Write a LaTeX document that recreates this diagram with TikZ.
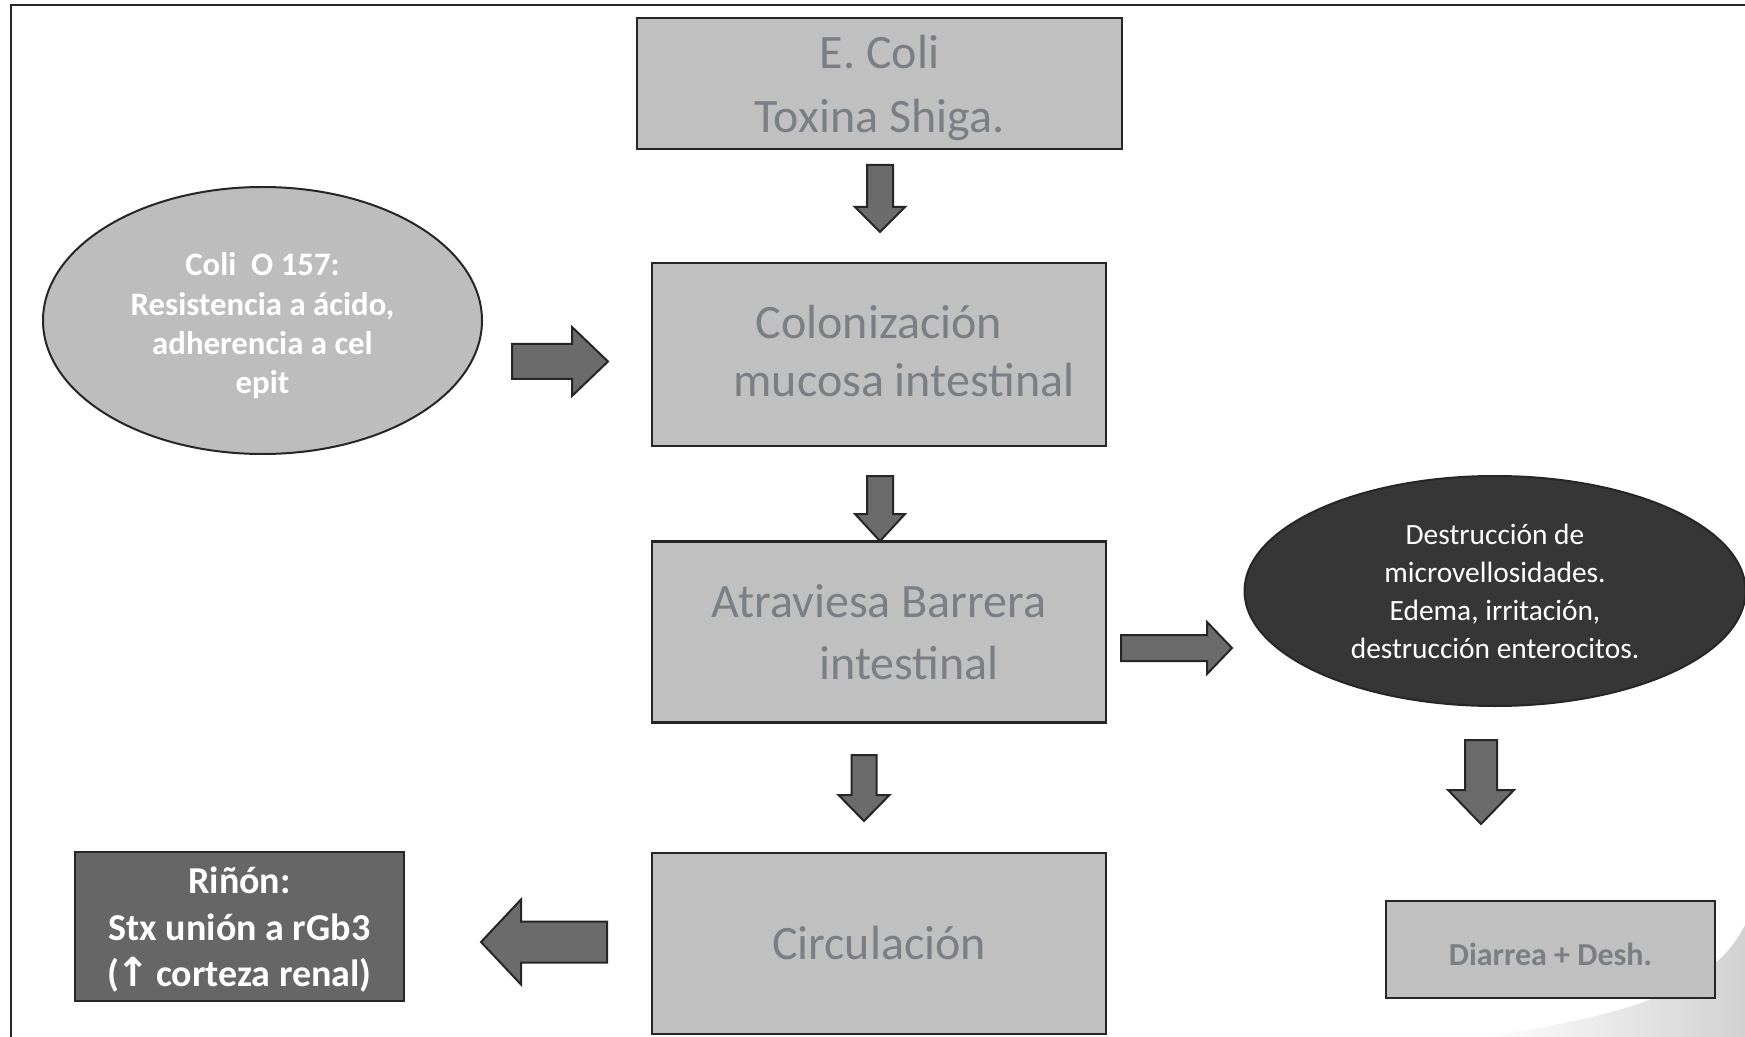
\documentclass[tikz,border=0pt]{standalone}
\usepackage{fontspec}
\setmainfont{Carlito}
\newfontfamily\dejavu{DejaVu Sans}
\usetikzlibrary{shapes.geometric}
\definecolor{boxfill}{HTML}{C0C0C0}
\definecolor{boxtext}{HTML}{7A7F86}
\definecolor{ellfill}{HTML}{BDBDBD}
\definecolor{darkell}{HTML}{363636}
\definecolor{rinonfill}{HTML}{666666}
\definecolor{arrowfill}{HTML}{6B6B6B}
\definecolor{edgec}{HTML}{262626}
% #1 start, #2 angle, #3 length, #4 shaft half width, #5 head half width, #6 head length
\newcommand{\blockarr}[6]{%
  \draw[barrow, shift={#1}, rotate=#2] (0,-#4) -- ({#3-#6},-#4) -- ({#3-#6},-#5) -- (#3,0)
    -- ({#3-#6},#5) -- ({#3-#6},#4) -- (0,#4) -- cycle;}
\newcommand{\upstrut}[1]{\rule{0pt}{#1}}
\newcommand{\downstrut}[1]{\rule[-#1]{0pt}{0pt}}
\tikzset{
  gbox/.style={draw=edgec, line width=1.25pt, fill=boxfill, rectangle, inner sep=0pt,
    align=center, text=boxtext},
  bigtext/.style={font=\fontsize{24}{#1}\selectfont},
  barrow/.style={draw=edgec, line width=1pt, fill=arrowfill, line join=miter},
  ell/.style={ellipse, draw=edgec, line width=1pt, inner sep=0pt, align=center},
}
\begin{document}
\begin{tikzpicture}[x=0.5pt, y=-0.5pt]
\useasboundingbox (0,0) rectangle (1745,1037);
\fill[white] (0,0) rectangle (1745,1037);
% page-curl shadow at bottom right
\shade[left color=white, right color=black!18]
  (1480,1037) .. controls (1640,1015) and (1715,985) .. (1745,925) -- (1745,1037) -- cycle;
% frame
\draw[line width=1.25pt, edgec] (11,1037) -- (11,5) -- (1745,5);

% boxes
\node[gbox, bigtext=32pt, minimum width=242.5pt, minimum height=65.5pt] (ecoli) at (879.5,83.5)
  {\upstrut{21.3pt}E. Coli\\Toxina Shiga.};
\node[gbox, bigtext=29pt, minimum width=227pt, minimum height=91.5pt] (colon) at (879,354.5)
  {Colonización\\\hspace*{25pt}mucosa intestinal\downstrut{3.3pt}};
\node[gbox, bigtext=31pt, minimum width=227pt, minimum height=90.5pt] (atr) at (879,632)
  {Atraviesa Barrera\\\hspace*{30pt}intestinal};
\node[gbox, bigtext=29pt, minimum width=227pt, minimum height=90.5pt] (circ) at (879,943.5)
  {Circulación};
\node[gbox, fill=rinonfill, text=white, font=\bfseries\fontsize{19}{23.25}\selectfont,
  minimum width=164.5pt, minimum height=74.5pt] (rinon) at (239.5,926.5)
  {\upstrut{16.6pt}Riñón:\\Stx unión a rGb3\\(\kern-1.5pt{\dejavu\fontsize{20}{20}\selectfont ↑}\kern-1pt{} corteza renal)};
\node[gbox, font=\bfseries\fontsize{16}{19}\selectfont,
  minimum width=164.5pt, minimum height=48.5pt] (diarrea) at (1550.5,949.5)
  {\upstrut{15.7pt}Diarrea + Desh.};

% ellipses
\node[ell, fill=ellfill, text=white, font=\bfseries\fontsize{16.4}{19.6}\selectfont,
  minimum width=219.5pt, minimum height=133.5pt] (coli) at (262.5,320.5)
  {\upstrut{16.8pt}Coli\ \ O 157:\\Resistencia a ácido,\\adherencia a cel\\epit};
\node[ell, fill=darkell, text=white, font=\fontsize{14.7}{19}\selectfont,
  minimum width=250.5pt, minimum height=115pt] (destr) at (1495,591)
  {Destrucción de\\microvellosidades.\\Edema, irritación,\\destrucción enterocitos.};

% block arrows
\blockarr{(880,165)}{-90}{67}{13}{25}{25}
\blockarr{(880,476)}{-90}{65}{13}{25}{27}
\blockarr{(864,755)}{-90}{66}{12.5}{25.5}{26}
\blockarr{(512,361.5)}{0}{96}{17.5}{34.5}{36}
\blockarr{(1121,648)}{0}{111}{13}{26}{25}
\blockarr{(1481,740)}{-90}{84}{16}{33}{34}
\blockarr{(607,942)}{180}{126}{20.5}{42.5}{40}
\end{tikzpicture}
\end{document}
